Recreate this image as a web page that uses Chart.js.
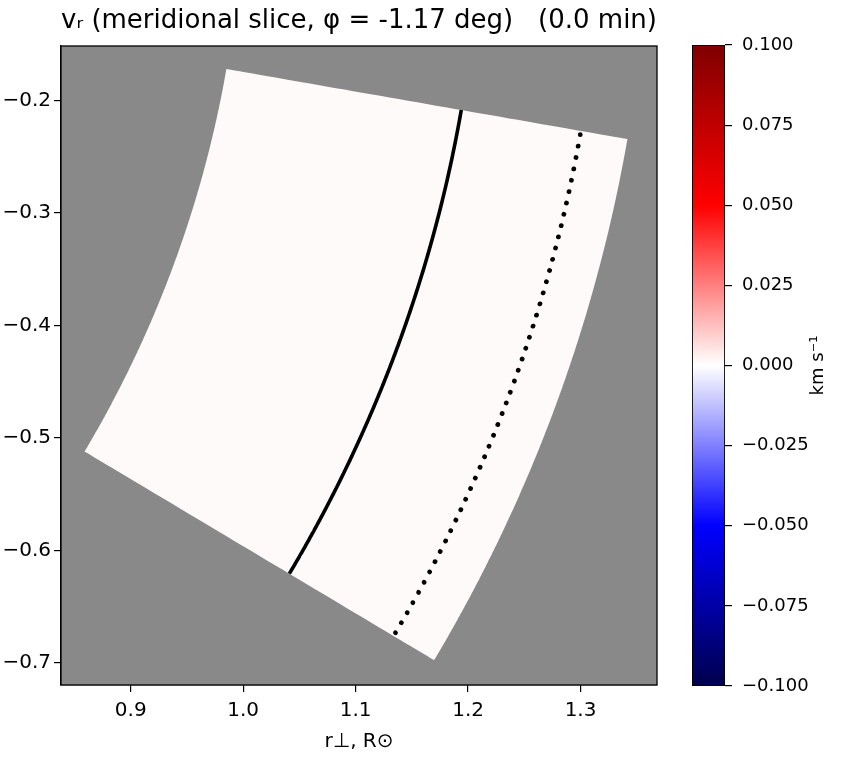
<!DOCTYPE html>
<html>
<head>
<meta charset="utf-8">
<script src="https://cdn.jsdelivr.net/npm/chart.js@4.4.1/dist/chart.umd.min.js"></script>
<style>
  html, body { margin: 0; padding: 0; background: #ffffff; }
  body { width: 853px; height: 757px; position: relative; overflow: hidden; }
  #mainWrap { position: absolute; left: 0; top: 0; width: 718px; height: 757px; }
  #cbarWrap { position: absolute; left: 680px; top: 0; width: 173px; height: 757px; }
  canvas { display: block; }
</style>
</head>
<body>
<div id="mainWrap"><canvas id="mainChart" width="718" height="757"></canvas></div>
<div id="cbarWrap"><canvas id="cbarChart" width="173" height="757"></canvas></div>
<script>
// ---------------- data ----------------
const titleText = "v\u1D63 (meridional slice, \u03C6 = -1.17 deg)   (0.0 min)";
const xAxisLabel = "r\u22A5, R\u2299";
const cbarLabel = "km s\u207B\u00B9";

// domain of the slice: latitude limits (deg) and radial limits (R_sun)
const latitudeLimitsDeg = [-30.8, -9.9];
const domainRadii = [1.0, 1.362];
// field value inside the domain (v_r, km/s)
const fieldValue = [0.0];
// overlay arcs (radius, R_sun)
const solidArcRadius = [1.212];
const dottedArcRadius = [1.32];

// axes
const xRange = [0.838, 1.368];
const yRange = [-0.7196, -0.1515];
const xTicks = [0.9, 1.0, 1.1, 1.2, 1.3];
const yTicks = [-0.2, -0.3, -0.4, -0.5, -0.6, -0.7];

// colour bar
const cbarRange = [-0.1, 0.1];
const cbarTicks = [-0.1, -0.075, -0.05, -0.025, 0.0, 0.025, 0.05, 0.075, 0.1];
// seismic colormap stops
const cmapStops = [0.0, 0.25, 0.5, 0.75, 1.0];
const cmapColors = ["rgb(0,0,77)", "rgb(0,0,255)", "rgb(255,255,255)", "rgb(255,0,0)", "rgb(128,0,0)"];

// ---------------- helpers ----------------
const FONT = "'DejaVu Sans', 'Liberation Sans', sans-serif";
const MINUS = "\u2212";
function fmt(v, d) {
  const s = Math.abs(v).toFixed(d);
  return (v < -1e-12 ? MINUS : "") + s;
}
// sample a circular arc of radius r between two latitudes (polar grid of the slice)
function arc(r, latA, latB, n) {
  const pts = [];
  for (let i = 0; i <= n; i++) {
    const t = (latA + (latB - latA) * i / n) * Math.PI / 180;
    pts.push({ x: r * Math.cos(t), y: r * Math.sin(t) });
  }
  return pts;
}

const N = 120;
const sectorPts = arc(domainRadii[1], latitudeLimitsDeg[1], latitudeLimitsDeg[0], N)
  .concat(arc(domainRadii[0], latitudeLimitsDeg[0], latitudeLimitsDeg[1], N));
sectorPts.push(sectorPts[0]);
const solidPts = arc(solidArcRadius[0], latitudeLimitsDeg[1], latitudeLimitsDeg[0], N);
const dottedPts = arc(dottedArcRadius[0], latitudeLimitsDeg[1] - 0.15, latitudeLimitsDeg[0] + 0.1, N);

// field colour (v_r = 0 -> centre of seismic map, very slightly warm white as in picture)
const fieldColor = "#fefafa";

// ---------------- main chart ----------------
const framePlugin = {
  id: "frame",
  beforeDatasetsDraw(chart) {
    const a = chart.chartArea, c = chart.ctx;
    c.save();
    c.fillStyle = "#898989";
    c.fillRect(a.left, a.top, a.right - a.left, a.bottom - a.top);
    c.restore();
  },
  afterDraw(chart) {
    const a = chart.chartArea, c = chart.ctx;
    c.save();
    c.strokeStyle = "#000";
    c.lineWidth = 1.3;
    c.strokeRect(a.left, a.top, a.right - a.left, a.bottom - a.top);
    c.restore();
  }
};

new Chart(document.getElementById("mainChart"), {
  type: "scatter",
  data: {
    datasets: [
      {
        label: "v_r = " + fieldValue[0],
        data: sectorPts,
        order: 3,
        showLine: true,
        fill: "shape",
        backgroundColor: fieldColor,
        borderColor: "rgba(0,0,0,0)",
        borderWidth: 0,
        pointRadius: 0,
        tension: 0.00001
      },
      {
        label: "solid arc",
        data: solidPts,
        order: 1,
        showLine: true,
        fill: false,
        borderColor: "#000",
        borderWidth: 3.6,
        pointRadius: 0,
        tension: 0.00001
      },
      {
        label: "dotted arc",
        data: dottedPts,
        order: 2,
        showLine: true,
        fill: false,
        borderColor: "#000",
        borderWidth: 4.8,
        borderDash: [0.01, 11.6],
        borderCapStyle: "round",
        pointRadius: 0,
        tension: 0.00001
      }
    ]
  },
  options: {
    responsive: false,
    devicePixelRatio: 1,
    animation: false,
    layout: { padding: 0 },
    plugins: {
      legend: { display: false },
      tooltip: { enabled: false },
      title: {
        display: true,
        text: titleText,
        color: "#000",
        font: { family: FONT, size: 26, weight: "normal" },
        padding: { top: 6, bottom: 8.8 }
      }
    },
    scales: {
      x: {
        type: "linear",
        min: xRange[0], max: xRange[1],
        afterBuildTicks: s => { s.ticks = xTicks.map(v => ({ value: v })); },
        afterFit: s => { s.height = 72; },
        ticks: {
          callback: v => fmt(v, 1),
          color: "#000",
          font: { family: FONT, size: 20 },
          padding: 7,
          maxRotation: 0,
          autoSkip: false
        },
        grid: { drawOnChartArea: false, drawTicks: true, tickLength: 7, color: "#000", lineWidth: 1.2 },
        border: { display: true, color: "#000", width: 1.3 },
        title: {
          display: true,
          text: xAxisLabel,
          color: "#000",
          font: { family: FONT, size: 20 },
          padding: { top: 0, bottom: 3 }
        }
      },
      y: {
        type: "linear",
        position: "left",
        min: yRange[0], max: yRange[1],
        afterBuildTicks: s => { s.ticks = yTicks.map(v => ({ value: v })); },
        afterFit: s => { s.width = 61; },
        ticks: {
          callback: v => fmt(v, 1),
          color: "#000",
          font: { family: FONT, size: 20 },
          padding: 3,
          autoSkip: false
        },
        grid: { drawOnChartArea: false, drawTicks: true, tickLength: 7, color: "#000", lineWidth: 1.2 },
        border: { display: true, color: "#000", width: 1.3 }
      },
      yRightSpacer: {
        type: "linear",
        position: "right",
        min: 0, max: 1,
        afterFit: s => { s.width = 61; },
        ticks: { display: false },
        grid: { display: false },
        border: { display: false }
      }
    }
  },
  plugins: [framePlugin]
});

// ---------------- colour bar ----------------
const cbarLabelPlugin = {
  id: "cbarLabel",
  afterDraw(chart) {
    const c = chart.ctx, a = chart.chartArea;
    c.save();
    c.translate(138, (a.top + a.bottom) / 2);
    c.rotate(-Math.PI / 2);
    c.fillStyle = "#000";
    c.font = "18px " + FONT;
    c.textAlign = "center";
    c.textBaseline = "middle";
    c.fillText(cbarLabel, 0, 0);
    c.restore();
  }
};

new Chart(document.getElementById("cbarChart"), {
  type: "bar",
  data: {
    labels: ["v_r"],
    datasets: [{
      data: [[cbarRange[0], cbarRange[1]]],
      backgroundColor: (ctx) => {
        const chart = ctx.chart;
        const ys = chart.scales.y;
        if (!chart.chartArea || !ys) return "#fff";
        const g = chart.ctx.createLinearGradient(0, ys.getPixelForValue(cbarRange[0]), 0, ys.getPixelForValue(cbarRange[1]));
        cmapStops.forEach((s, i) => g.addColorStop(s, cmapColors[i]));
        return g;
      },
      borderColor: "#000",
      borderWidth: 1.2,
      borderSkipped: false,
      barPercentage: 1,
      categoryPercentage: 1
    }]
  },
  options: {
    responsive: false,
    devicePixelRatio: 1,
    animation: false,
    layout: { padding: { left: 12, right: 0, top: 45, bottom: 71 } },
    plugins: { legend: { display: false }, tooltip: { enabled: false }, title: { display: false } },
    scales: {
      x: { display: false },
      y: {
        position: "right",
        min: cbarRange[0], max: cbarRange[1],
        afterBuildTicks: s => { s.ticks = cbarTicks.map(v => ({ value: v })); },
        afterFit: s => { s.width = 128; },
        ticks: {
          callback: v => fmt(v, 3),
          color: "#000",
          font: { family: FONT, size: 18 },
          padding: 10,
          autoSkip: false
        },
        grid: { drawOnChartArea: false, drawTicks: true, tickLength: 7, color: "#000", lineWidth: 1.2 },
        border: { display: false }
      }
    }
  },
  plugins: [cbarLabelPlugin]
});
</script>
</body>
</html>
